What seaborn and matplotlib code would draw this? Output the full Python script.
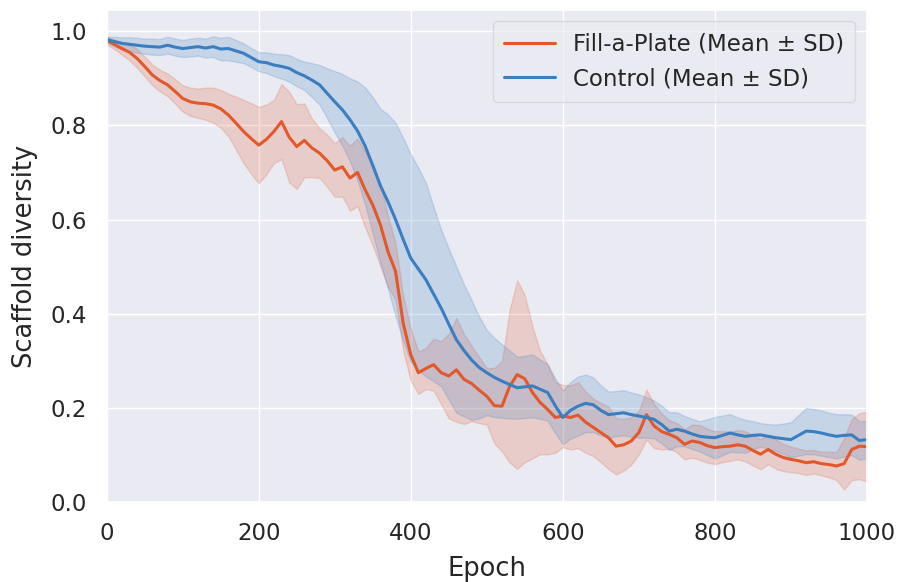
import matplotlib
matplotlib.use("Agg")
import matplotlib.pyplot as plt
import numpy as np
import pandas as pd
import seaborn as sns

# ---------- data (every 10 epochs) ----------
epochs = list(range(0, 1001, 10))

fap_mean = [
    0.980, 0.972, 0.963, 0.955, 0.942, 0.925, 0.907, 0.895, 0.886, 0.872,
    0.857, 0.850, 0.847, 0.846, 0.843, 0.835, 0.822, 0.805, 0.787, 0.772,
    0.758, 0.770, 0.787, 0.808, 0.775, 0.755, 0.768, 0.752, 0.741, 0.725,
    0.705, 0.712, 0.688, 0.700, 0.663, 0.631, 0.589, 0.532, 0.490, 0.380,
    0.313, 0.275, 0.284, 0.292, 0.275, 0.268, 0.281, 0.261, 0.252, 0.238,
    0.225, 0.205, 0.204, 0.246, 0.271, 0.262, 0.233, 0.212, 0.197, 0.180,
    0.183, 0.180, 0.185, 0.170, 0.159, 0.148, 0.137, 0.119, 0.122, 0.130,
    0.148, 0.186, 0.162, 0.150, 0.144, 0.137, 0.123, 0.130, 0.127, 0.120,
    0.116, 0.118, 0.119, 0.122, 0.119, 0.110, 0.102, 0.112, 0.102, 0.095,
    0.091, 0.088, 0.084, 0.086, 0.082, 0.080, 0.077, 0.082, 0.112, 0.119,
    0.118,
]
fap_sd = [
    0.008, 0.010, 0.013, 0.017, 0.020, 0.021, 0.022, 0.023, 0.024, 0.026,
    0.028, 0.030, 0.031, 0.034, 0.037, 0.040, 0.045, 0.056, 0.067, 0.075,
    0.081, 0.074, 0.067, 0.080, 0.096, 0.090, 0.078, 0.062, 0.053, 0.055,
    0.057, 0.063, 0.069, 0.072, 0.080, 0.086, 0.088, 0.075, 0.060, 0.058,
    0.055, 0.045, 0.044, 0.055, 0.067, 0.090, 0.110, 0.095, 0.080, 0.070,
    0.060, 0.080, 0.096, 0.162, 0.200, 0.177, 0.140, 0.110, 0.095, 0.075,
    0.066, 0.068, 0.070, 0.065, 0.061, 0.063, 0.066, 0.060, 0.055, 0.050,
    0.046, 0.053, 0.047, 0.038, 0.030, 0.031, 0.032, 0.035, 0.037, 0.036,
    0.035, 0.033, 0.031, 0.031, 0.032, 0.032, 0.032, 0.031, 0.031, 0.029,
    0.027, 0.026, 0.026, 0.025, 0.025, 0.027, 0.030, 0.055, 0.065, 0.070,
    0.074,
]
ctrl_mean = [
    0.982, 0.978, 0.974, 0.972, 0.970, 0.968, 0.967, 0.966, 0.970, 0.966,
    0.963, 0.965, 0.967, 0.964, 0.967, 0.962, 0.963, 0.958, 0.953, 0.944,
    0.935, 0.933, 0.928, 0.925, 0.921, 0.912, 0.905, 0.896, 0.886, 0.868,
    0.850, 0.833, 0.812, 0.788, 0.756, 0.715, 0.672, 0.638, 0.600, 0.558,
    0.518, 0.495, 0.472, 0.442, 0.412, 0.378, 0.345, 0.322, 0.302, 0.286,
    0.275, 0.265, 0.257, 0.250, 0.243, 0.245, 0.247, 0.240, 0.233, 0.205,
    0.180, 0.195, 0.204, 0.210, 0.207, 0.195, 0.186, 0.188, 0.190, 0.186,
    0.183, 0.180, 0.176, 0.165, 0.151, 0.155, 0.151, 0.145, 0.140, 0.138,
    0.137, 0.142, 0.147, 0.143, 0.140, 0.142, 0.143, 0.140, 0.137, 0.135,
    0.133, 0.142, 0.151, 0.150, 0.147, 0.143, 0.140, 0.142, 0.143, 0.131,
    0.133,
]
ctrl_sd = [
    0.006, 0.010, 0.013, 0.015, 0.016, 0.016, 0.017, 0.017, 0.018, 0.018,
    0.018, 0.019, 0.019, 0.020, 0.022, 0.024, 0.025, 0.023, 0.021, 0.020,
    0.020, 0.022, 0.024, 0.026, 0.028, 0.029, 0.030, 0.036, 0.042, 0.053,
    0.065, 0.076, 0.088, 0.105, 0.124, 0.145, 0.163, 0.185, 0.205, 0.215,
    0.220, 0.215, 0.205, 0.185, 0.166, 0.160, 0.155, 0.140, 0.127, 0.108,
    0.090, 0.084, 0.078, 0.072, 0.066, 0.066, 0.067, 0.063, 0.060, 0.058,
    0.057, 0.060, 0.063, 0.061, 0.058, 0.053, 0.049, 0.048, 0.048, 0.047,
    0.046, 0.043, 0.040, 0.040, 0.040, 0.036, 0.032, 0.032, 0.032, 0.038,
    0.044, 0.042, 0.040, 0.037, 0.035, 0.030, 0.025, 0.026, 0.028, 0.032,
    0.037, 0.043, 0.049, 0.048, 0.048, 0.047, 0.047, 0.045, 0.043, 0.041,
    0.040,
]

labels = ["Fill-a-Plate (Mean ± SD)", "Control (Mean ± SD)"]
colors = ["#E2582B", "#3A7EC2"]

sns.set_theme(style="darkgrid")
plt.rcParams["font.family"] = ["DejaVu Sans"]

df = pd.concat([
    pd.DataFrame({"Epoch": epochs, "mean": fap_mean, "sd": fap_sd, "run": labels[0]}),
    pd.DataFrame({"Epoch": epochs, "mean": ctrl_mean, "sd": ctrl_sd, "run": labels[1]}),
])

fig = plt.figure(figsize=(9.04, 5.82), dpi=100)
ax = fig.add_axes([0.118, 0.137, 0.841, 0.846])

# mean +/- SD bands
for lab, col in zip(labels, colors):
    d = df[df["run"] == lab]
    ax.fill_between(d["Epoch"], d["mean"] - d["sd"], d["mean"] + d["sd"],
                    color=col, alpha=0.2, lw=1, edgecolor=col)

sns.lineplot(data=df, x="Epoch", y="mean", hue="run", palette=colors,
             hue_order=labels, lw=2.2, ax=ax)

ax.set_xlim(0, 1000)
ax.set_ylim(0, 1.045)
ax.set_yticks([0.0, 0.2, 0.4, 0.6, 0.8, 1.0])
ax.set_xlabel("Epoch", fontsize=18.5, labelpad=8)
ax.set_ylabel("Scaffold diversity", fontsize=18.5, labelpad=9)
ax.tick_params(labelsize=16.5, pad=8)
ax.legend(title=None, loc="upper right", fontsize=16.5, framealpha=0.6,
          handlelength=2.2, borderpad=0.5)

fig.savefig("out.png", dpi=100)
